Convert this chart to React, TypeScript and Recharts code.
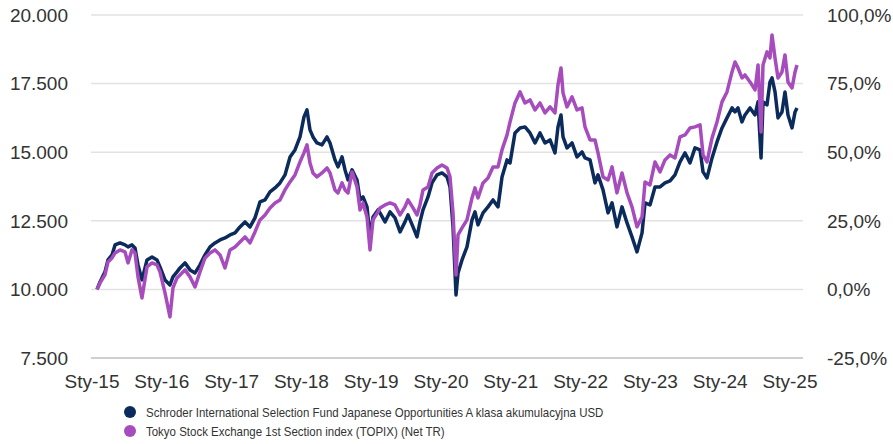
import React from "react";
import { LineChart, Line, XAxis, YAxis, CartesianGrid } from "recharts";

// decimal-year dates of sampled points
const dates: number[] = [
  2015.072, 2015.115, 2015.186, 2015.229, 2015.287, 2015.33, 2015.401, 2015.473, 2015.516, 2015.573, 2015.616, 2015.659, 2015.716, 2015.788, 2015.86, 2015.931, 2015.974,
  2016.046, 2016.117, 2016.16, 2016.218, 2016.261, 2016.332, 2016.404, 2016.476, 2016.547, 2016.619, 2016.691, 2016.762, 2016.834, 2016.905, 2016.977,
  2017.049, 2017.12, 2017.192, 2017.264, 2017.335, 2017.407, 2017.479, 2017.55, 2017.622, 2017.693, 2017.765, 2017.837, 2017.908, 2017.98,
  2018.037, 2018.08, 2018.123, 2018.166, 2018.223, 2018.295, 2018.367, 2018.41, 2018.481, 2018.524, 2018.582, 2018.625, 2018.668, 2018.725, 2018.797, 2018.84, 2018.883, 2018.94, 2018.983,
  2019.026, 2019.097, 2019.126, 2019.198, 2019.269, 2019.341, 2019.413, 2019.484, 2019.527, 2019.599, 2019.656, 2019.699, 2019.742, 2019.814, 2019.871, 2019.943,
  2020.014, 2020.086, 2020.129, 2020.172, 2020.215, 2020.244, 2020.301, 2020.372, 2020.444, 2020.487, 2020.53, 2020.602, 2020.673, 2020.745, 2020.817, 2020.874, 2020.946, 2020.989,
  2021.06, 2021.132, 2021.203, 2021.275, 2021.347, 2021.418, 2021.49, 2021.562, 2021.633, 2021.676, 2021.719, 2021.748, 2021.805, 2021.877, 2021.948,
  2022.02, 2022.063, 2022.135, 2022.206, 2022.249, 2022.321, 2022.393, 2022.45, 2022.521, 2022.593, 2022.665, 2022.736, 2022.808, 2022.88, 2022.923, 2022.994,
  2023.066, 2023.138, 2023.209, 2023.281, 2023.352, 2023.424, 2023.496, 2023.567, 2023.639, 2023.711, 2023.754, 2023.811, 2023.883, 2023.954,
  2024.026, 2024.097, 2024.169, 2024.212, 2024.255, 2024.312, 2024.355, 2024.427, 2024.499, 2024.542, 2024.585, 2024.613, 2024.67, 2024.713, 2024.742, 2024.785, 2024.828, 2024.885, 2024.928, 2024.971,
  2025.029, 2025.072, 2025.1,
];

// Schroder ISF Japanese Opportunities A Acc USD (growth of 10.000)
const fundValues: number[] = [
  10000, 10273, 10638, 11075, 11257, 11622, 11695, 11622, 11549, 11622, 11512, 10893, 10346, 11075, 11184, 11075, 10820,
  10346, 10164, 10456, 10638, 10783, 10966, 10711, 10601, 10893, 11257, 11549, 11695, 11804, 11877, 11986,
  12059, 12278, 12460, 12278, 12606, 13189, 13261, 13553, 13699, 13881, 14172, 14828, 15083, 15557,
  16286, 16541, 15812, 15557, 15338, 15266, 15557, 15338, 14719, 14464, 14828, 14355, 13990, 14355, 13990, 13261, 13371, 13007, 11913,
  12642, 12897, 12788, 12460, 12824, 12606, 12095, 12460, 12715, 12278, 11913, 12460, 12897, 13371, 13881, 14172,
  14245, 14099, 13735, 12278, 9800, 10601, 11075, 11549, 12533, 12824, 12350, 12788, 13007, 13261, 13007, 14099, 14719, 14610,
  15703, 15885, 15922, 15703, 15338, 15703, 15338, 15448, 14974, 15922, 16359, 15557, 15156, 15338, 14828,
  15011, 14792, 14719, 13881, 14172, 13626, 12788, 13152, 12278, 13007, 12423, 11913, 11367, 12059, 13152, 13079,
  13735, 13735, 13881, 13954, 14172, 14646, 14974, 14610, 15156, 15083, 14282, 14063, 14792, 15375,
  15885, 16250, 16614, 16468, 16614, 16104, 16359, 16614, 16359, 16833, 14792, 16833, 16723, 17561, 17707, 17197, 16250, 16468, 17197, 16359,
  15885, 16468, 16614,
];

// TOPIX (Net TR)
const indexValues: number[] = [
  10000, 10237, 10528, 11002, 11148, 11330, 11440, 11367, 10966, 11440, 11330, 10456, 9690, 10820, 10966, 10893, 10638,
  9873, 8998, 10055, 10419, 10528, 10711, 10456, 10091, 10638, 11148, 11330, 11440, 11257, 10783, 11440,
  11549, 11731, 11913, 11695, 12095, 12533, 12715, 12970, 13152, 13261, 13626, 13917, 14172, 14646,
  14974, 15266, 14610, 14245, 14099, 14245, 14427, 14245, 13626, 13517, 13881, 13626, 13517, 14282, 13735, 12897, 13152, 12642, 11440,
  12533, 12824, 12970, 13079, 13152, 13079, 12715, 13007, 13261, 12970, 12715, 13079, 13626, 13735, 14245, 14427,
  14537, 14427, 14099, 12788, 10528, 11986, 12241, 12533, 13334, 13699, 13334, 13881, 14063, 14464, 14464, 15083, 15630, 16104,
  16796, 17197, 16796, 16906, 16541, 16796, 16432, 16650, 16432, 17452, 18072, 17160, 16650, 17015, 16541,
  16614, 15922, 15448, 15448, 14974, 14099, 13990, 14464, 13517, 14245, 13517, 13007, 12278, 12642, 13917, 13808,
  14646, 14282, 14719, 14901, 14792, 15557, 15630, 15885, 15922, 15995, 14901, 14646, 15521, 16104,
  16833, 17197, 17926, 18290, 18072, 17707, 17816, 17561, 17270, 18181, 15739, 18181, 18655, 18436, 19274, 18436, 17707, 17926, 18545, 17561,
  17343, 17926, 18181,
];

const xTicks: number[] = [2015, 2016, 2017, 2018, 2019, 2020, 2021, 2022, 2023, 2024, 2025];
const leftTicks: number[] = [7500, 10000, 12500, 15000, 17500, 20000];
const rightTicks: number[] = [-25, 0, 25, 50, 75, 100];

const seriesNames: string[] = [
  "Schroder International Selection Fund Japanese Opportunities A klasa akumulacyjna USD",
  "Tokyo Stock Exchange 1st Section index (TOPIX) (Net TR)",
];
const NAVY = "#0b2b5c";
const PURPLE = "#a64cbd";

// right axis shows the cumulative return (%) of the same 10.000 base
const data = dates.map((d, i) => ({
  t: d,
  fund: fundValues[i],
  index: indexValues[i],
  fundPct: fundValues[i] / 100 - 100,
}));

const fmtThousands = (v: number) => String(v).replace(/\B(?=(\d{3})+(?!\d))/g, ".");
const fmtPct = (v: number) => v.toFixed(1).replace(".", ",") + "%";
const fmtYear = (v: number) => "Sty-" + String(Math.round(v)).slice(2);

const tickStyle = { fontSize: 19, fill: "#333333", fontFamily: "'Liberation Sans', Arial, sans-serif" };

export default function App() {
  return (
    <div style={{ position: "absolute", left: 0, top: 0, width: 893, height: 444, background: "#fff" }}>
      <LineChart
        width={893}
        height={444}
        data={data}
        margin={{ top: 15, right: 0, bottom: 46, left: 0 }}
      >
        <CartesianGrid vertical={false} stroke="#e2e2e2" strokeWidth={1.5} yAxisId="left" />
        <XAxis
          dataKey="t"
          type="number"
          domain={[2014.9857, 2025.186]}
          ticks={xTicks}
          tickFormatter={fmtYear}
          tick={tickStyle}
          tickLine={false}
          tickSize={0}
          tickMargin={17}
          height={40}
          axisLine={{ stroke: "#d0d0d0", strokeWidth: 2 }}
          allowDataOverflow
          interval={0}
        />
        <YAxis
          yAxisId="left"
          orientation="left"
          domain={[7500, 20000]}
          ticks={leftTicks}
          tickFormatter={fmtThousands}
          tick={tickStyle}
          axisLine={false}
          tickLine={false}
          tickSize={0}
          tickMargin={23}
          width={91}
          interval={0}
          allowDataOverflow
        />
        <YAxis
          yAxisId="right"
          orientation="right"
          domain={[-25, 100]}
          ticks={rightTicks}
          tickFormatter={fmtPct}
          tick={{ ...tickStyle, textAnchor: "start" }}
          axisLine={false}
          tickLine={false}
          tickSize={0}
          tickMargin={24}
          width={90}
          interval={0}
          allowDataOverflow
        />
        <Line
          yAxisId="right"
          dataKey="fundPct"
          stroke="none"
          strokeWidth={0}
          dot={false}
          activeDot={false}
          isAnimationActive={false}
          legendType="none"
        />
        <Line
          yAxisId="left"
          dataKey="fund"
          stroke={NAVY}
          strokeWidth={3.5}
          dot={false}
          isAnimationActive={false}
          strokeLinejoin="round"
        />
        <Line
          yAxisId="left"
          dataKey="index"
          stroke={PURPLE}
          strokeWidth={3.5}
          dot={false}
          isAnimationActive={false}
          strokeLinejoin="round"
        />
      </LineChart>
      {seriesNames.map((name, i) => (
        <div
          key={name}
          style={{
            position: "absolute",
            left: 124,
            top: 404 + i * 19,
            height: 16,
            display: "flex",
            alignItems: "center",
            fontFamily: "'Liberation Sans', Arial, sans-serif",
            fontSize: 13.5,
            color: "#333333",
            whiteSpace: "nowrap",
          }}
        >
          <span
            style={{
              display: "inline-block",
              width: 12,
              height: 12,
              borderRadius: "50%",
              background: i === 0 ? NAVY : PURPLE,
              marginRight: 10,
              flex: "none",
            }}
          />
          <span style={{ display: "inline-block", transform: "scaleX(0.85)", transformOrigin: "left center" }}>
            {name}
          </span>
        </div>
      ))}
    </div>
  );
}
